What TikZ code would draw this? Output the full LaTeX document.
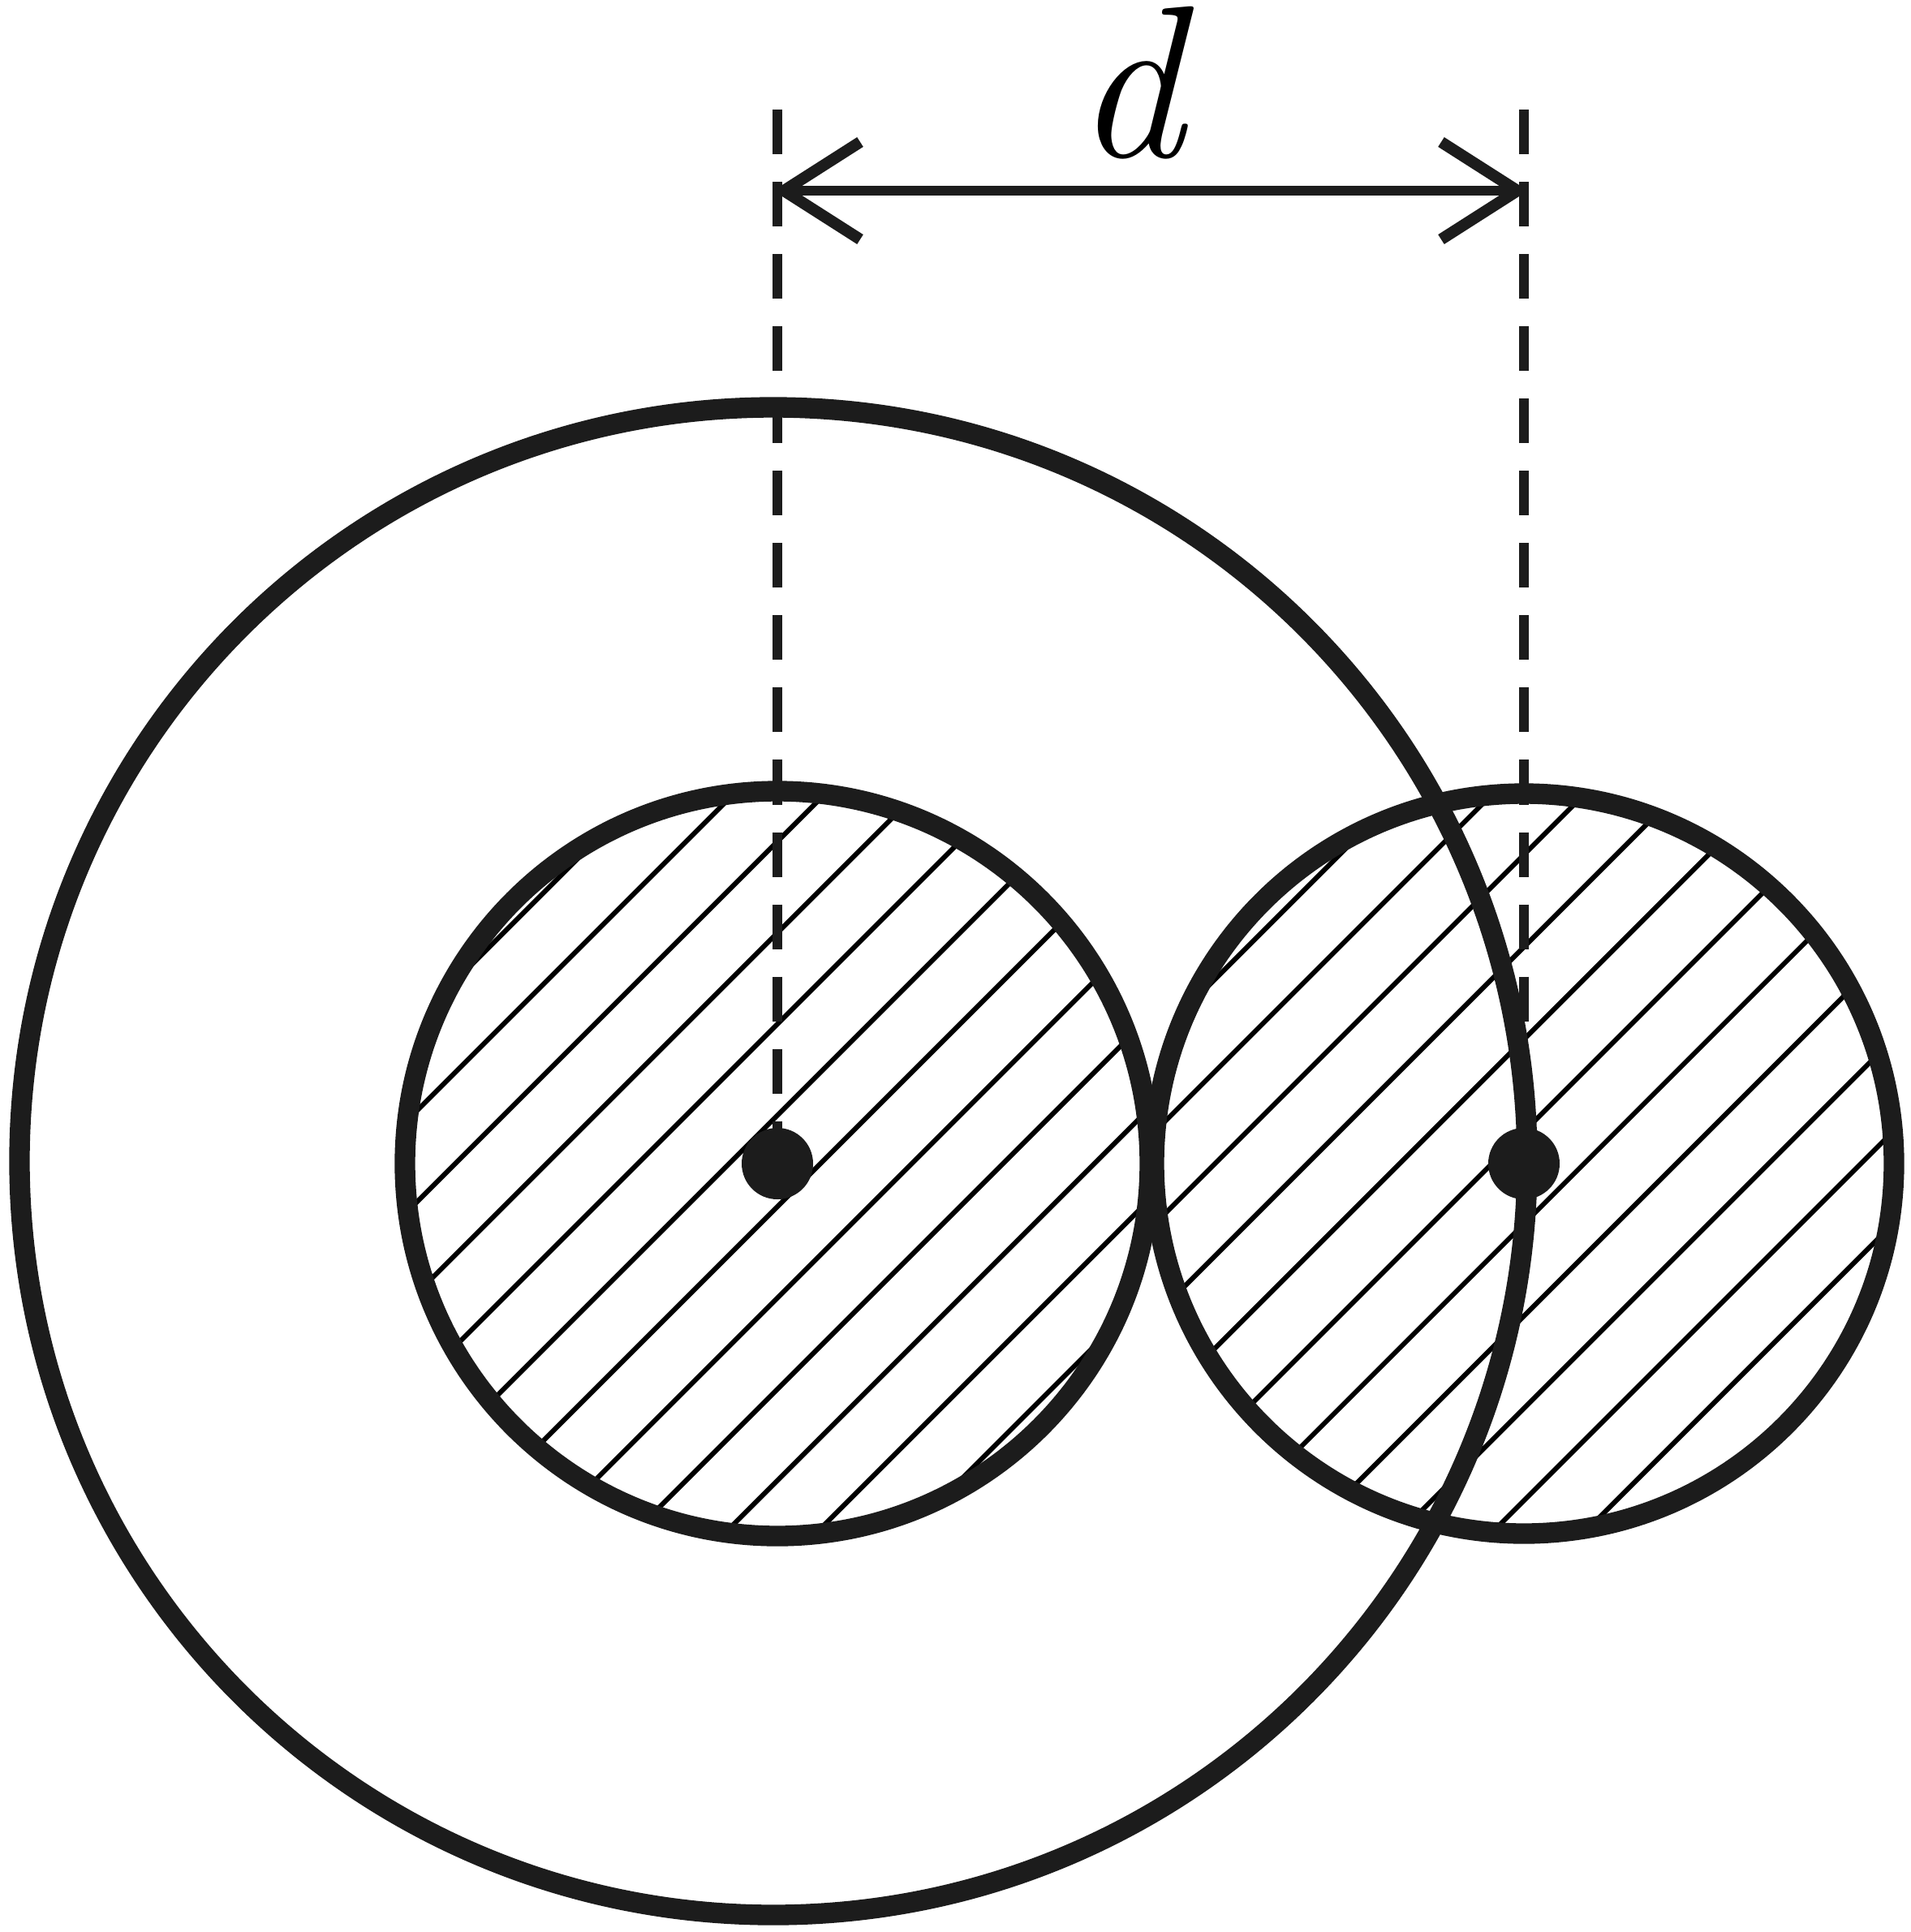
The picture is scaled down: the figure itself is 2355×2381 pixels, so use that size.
\documentclass[tikz,border=0pt]{standalone}
\usepackage{fontspec}
\usetikzlibrary{calc}
\definecolor{ink}{RGB}{28,28,28}
\begin{document}
\begin{tikzpicture}[x=0.01cm,y=-0.01cm,
  thickcirc/.style={line width=7.2pt, draw=ink},
  hatchline/.style={line width=1.7pt, draw=black},
  dimdash/.style={line width=3.3pt, draw=ink, dash pattern=on 0.55cm off 0.34cm},
  dimline/.style={line width=3.4pt, draw=ink},
  barb/.style={line width=4pt, draw=ink, miter limit=10},
  dot/.style={fill=ink}]
\useasboundingbox (0,0) rectangle (2355,2381);

\coordinate (A) at (958,1434);
\coordinate (B) at (1878,1434);
\coordinate (O) at (953,1431);
\coordinate (topA) at (958,135);
\coordinate (topB) at (1878,135);
\coordinate (dL) at (958,235);
\coordinate (dR) at (1878,235);

% hatching, left circle
\begin{scope}[shift={(A)}]
  \clip (0,0) circle (459);
  \foreach \k in {0,...,11}{
    \pgfmathsetmacro\o{-622+112.5*\k}
    \draw[hatchline] ({\o/2-800},{\o/2+800}) -- ({\o/2+800},{\o/2-800});
  }
\end{scope}

% hatching, right circle
\begin{scope}[shift={(B)}]
  \clip (0,0) circle (456);
  \foreach \k in {0,...,11}{
    \pgfmathsetmacro\o{-608+113.7*\k}
    \draw[hatchline] ({\o/2-800},{\o/2+800}) -- ({\o/2+800},{\o/2-800});
  }
\end{scope}

% circles
\draw[thickcirc] (A) circle (459);
\draw[thickcirc] (B) circle (456);
\draw[thickcirc] (O) circle (929);

% dashed verticals
\draw[dimdash] (topA) -- (A);
\draw[dimdash] (topB) -- (B);

% centre dots
\fill[dot] (A) circle (44);
\fill[dot] (B) circle (44);

% dimension line
\draw[dimline] (dL) -- (dR);
\draw[barb] ($(dL)+(102,-60)$) -- ($(dL)+(8,0)$) -- ($(dL)+(102,60)$);
\draw[barb] ($(dR)+(-102,-60)$) -- ($(dR)+(-8,0)$) -- ($(dR)+(-102,60)$);

\node[font=\itshape\fontsize{76}{76}\selectfont, anchor=base west, inner sep=0pt] (lbl) at (1324,193) {d};
\end{tikzpicture}
\end{document}
